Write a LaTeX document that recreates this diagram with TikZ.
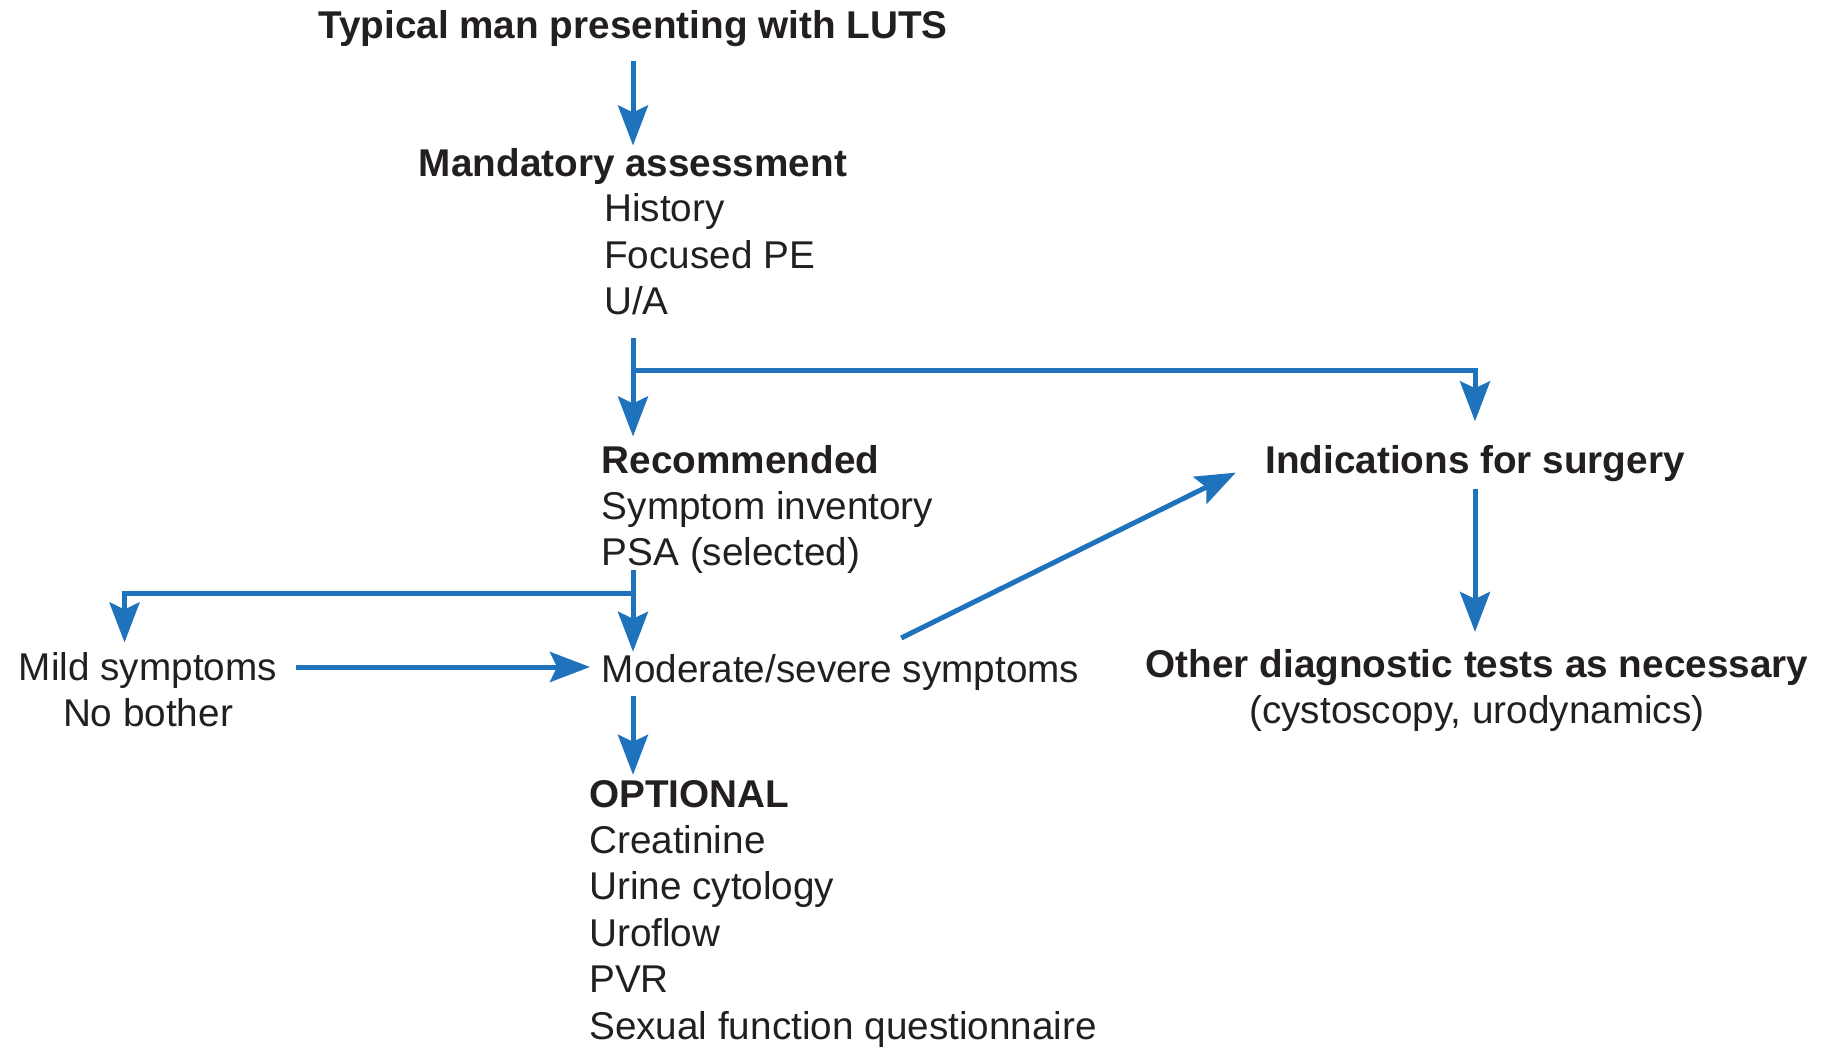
\documentclass[tikz,border=0pt]{standalone}
\usepackage{fontspec}
\setmainfont{Liberation Sans}
\usetikzlibrary{arrows.meta,calc}
\definecolor{flowblue}{RGB}{31,115,188}
\definecolor{inkgrey}{RGB}{35,31,32}
\tikzstyle{listtext} = [inner sep=0pt, text=inkgrey, font=\fontsize{38.7pt}{46.4pt}\selectfont, align=left]
\tikzstyle{heading} = [listtext, font=\fontsize{38.7pt}{46.4pt}\selectfont\bfseries]
\tikzstyle{flow} = [draw=flowblue, line width=5pt, -{Stealth[length=40pt,width=30pt,inset=7pt]}]

\begin{document}
\begin{tikzpicture}[x=1pt, y=-1pt]
		\useasboundingbox (0,0) rectangle (1825,1047);
		\node [heading, anchor=base] (title) at (633,38) {Typical man presenting with LUTS};
		\node [heading, anchor=base] (mand) at (633,176) {Mandatory assessment};
		\node [listtext, anchor=base west] (mandlist) at (604,314.5) {History\\Focused PE\\U/A};
		\node [listtext, anchor=base west] (rec) at (601.7,565.8) {\textbf{Recommended}\\Symptom inventory\\PSA (selected)};
		\node [listtext, anchor=base west] (mod) at (601.7,682) {Moderate/severe symptoms};
		\node [listtext, anchor=base, align=center] (mild) at (148,726.4) {Mild symptoms\\No bother};
		\node [heading, anchor=base] (ind) at (1475,473) {Indications for surgery};
		\node [listtext, anchor=base, align=center] (other) at (1477,723.4) {\textbf{Other diagnostic tests as necessary}\\(cystoscopy, urodynamics)};
		\node [listtext, anchor=base west] (opt) at (589,1039) {\textbf{OPTIONAL}\\Creatinine\\Urine cytology\\Uroflow\\PVR\\Sexual function questionnaire};
		\coordinate (split1) at (633,370);
		\coordinate (split2) at (633,593.6);
		\coordinate (modin) at ([yshift=5pt]mod.west);
		
		
		\draw [flow, shorten <=14.4pt, shorten >=2.3pt] (title.south) -- (mand.north);
		\draw [flow, shorten <=22.5pt, shorten >=8.3pt] (mand |- mandlist.south) -- (mand |- rec.north);
		\draw [flow, shorten >=23.5pt] (split1) -| (ind.north);
		\draw [flow, shorten <=-4pt, shorten >=2pt] (mand |- rec.south) -- (mand |- mod.north);
		\draw [flow, shorten >=9.3pt] (split2) -| ([xshift=-23.5pt]mild.north);
		\draw [flow, shorten <=18.6pt, shorten >=11.7pt] (mild.east |- modin) -- (modin);
		\draw [flow] ([xshift=60.6pt,yshift=15.8pt]mod.north) -- ([xshift=-29.3pt,yshift=-9.5pt]ind.west);
		\draw [flow, shorten <=7.8pt, shorten >=16.8pt] (ind.south) -- (ind.south |- other.north);
		\draw [flow, shorten <=5.8pt, shorten >=5pt] (mand |- mod.south) -- (mand |- opt.north);
		
		
\end{tikzpicture}
\end{document}
